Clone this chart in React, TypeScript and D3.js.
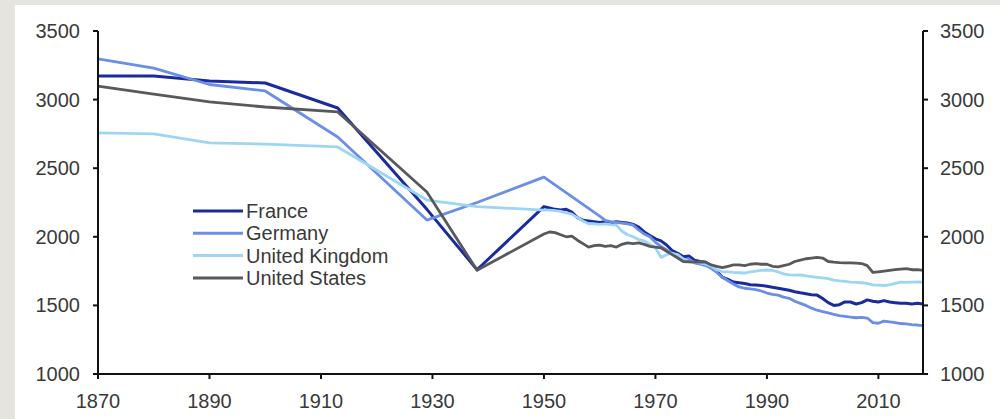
import React from "react";
import * as d3 from "d3";

const years = [
  1870, 1880, 1890, 1900, 1913, 1929, 1938,
  1950, 1951, 1952, 1953, 1954, 1955, 1956, 1957, 1958, 1959,
  1960, 1961, 1962, 1963, 1964, 1965, 1966, 1967, 1968, 1969,
  1970, 1971, 1972, 1973, 1974, 1975, 1976, 1977, 1978, 1979,
  1980, 1981, 1982, 1983, 1984, 1985, 1986, 1987, 1988, 1989,
  1990, 1991, 1992, 1993, 1994, 1995, 1996, 1997, 1998, 1999,
  2000, 2001, 2002, 2003, 2004, 2005, 2006, 2007, 2008, 2009,
  2010, 2011, 2012, 2013, 2014, 2015, 2016, 2017, 2018,
];

const france = [
  3172, 3172, 3135, 3121, 2939, 2200, 1760,
  2220, 2210, 2200, 2195, 2200, 2180, 2140, 2120, 2115, 2110,
  2105, 2110, 2100, 2110, 2105, 2100, 2090, 2070, 2035, 2010,
  1985, 1970, 1940, 1900, 1880, 1855, 1860, 1830, 1820, 1815,
  1790, 1750, 1705, 1690, 1670, 1665, 1660, 1650, 1648, 1645,
  1640, 1632, 1625, 1618, 1610, 1600, 1592, 1585, 1578, 1575,
  1550, 1520, 1500, 1505, 1525, 1525, 1510, 1520, 1540, 1530,
  1525, 1535, 1525, 1520, 1515, 1515, 1510, 1515, 1510,
];

const germany = [
  3296, 3230, 3110, 3063, 2727, 2122, 2250,
  2435, null, null, null, null, null, null, null, null, null,
  2150, 2120, 2110, 2105, 2100, 2095, 2085, 2050, 2020, 2000,
  1960, 1930, 1905, 1880, 1855, 1830, 1840, 1810, 1800, 1790,
  1770, 1740, 1705, 1680, 1655, 1635, 1625, 1620, 1615, 1605,
  1590, 1580, 1575, 1560, 1552, 1530, 1515, 1500, 1480, 1465,
  1455, 1445, 1435, 1425, 1420, 1415, 1410, 1412, 1408, 1375,
  1370, 1385, 1380, 1375, 1368, 1365, 1360, 1357, 1352,
];

const unitedKingdom = [
  2757, 2750, 2684, 2676, 2655, 2268, 2220,
  2195, 2195, 2190, 2185, 2175, 2165, 2140, 2115, 2095, 2095,
  2090, 2095, 2088, 2085, 2040, 2015, 2000, 1980, 1970, 1945,
  1920, 1850, 1870, 1880, 1870, 1840, 1820, 1815, 1810, 1800,
  1785, 1760, 1745, 1745, 1740, 1738, 1736, 1745, 1750, 1755,
  1758, 1755, 1745, 1730, 1722, 1720, 1722, 1715, 1710, 1705,
  1700, 1695, 1685, 1678, 1675, 1670, 1668, 1665, 1660, 1650,
  1648, 1645, 1650, 1660, 1670, 1668, 1670, 1672, 1670,
];

const unitedStates = [
  3099, 3040, 2983, 2946, 2910, 2326, 1756,
  2020, 2035, 2030, 2015, 2000, 2005, 1975, 1950, 1925, 1935,
  1940, 1930, 1935, 1925, 1945, 1955, 1950, 1955, 1945, 1930,
  1925, 1920, 1895, 1870, 1845, 1820, 1818, 1815, 1818, 1815,
  1795, 1785, 1775, 1785, 1795, 1795, 1790, 1800, 1805, 1800,
  1800, 1785, 1780, 1790, 1800, 1820, 1830, 1840, 1845, 1850,
  1845, 1820, 1815, 1812, 1810, 1810, 1808, 1805, 1790, 1740,
  1745, 1750, 1755, 1760, 1765, 1768, 1760, 1760, 1755,
];

const seriesNames = ["France", "Germany", "United Kingdom", "United States"];
const seriesValues = [france, germany, unitedKingdom, unitedStates];
const seriesColors = ["#1b2a9c", "#6b8fe6", "#9dd6f4", "#58595d"];

const yTicks = [1000, 1500, 2000, 2500, 3000, 3500];
const xTicks = [1870, 1890, 1910, 1930, 1950, 1970, 1990, 2010];

const W = 1000;
const H = 419;

export default function App() {
  const x = d3.scaleLinear().domain([1870, 2018]).range([98, 923]);
  const y = d3.scaleLinear().domain([1000, 3500]).range([374, 31]);

  const line = d3
    .line<[number, number]>()
    .x((d) => x(d[0]))
    .y((d) => y(d[1]));

  const textColor = "#3a3a3a";
  const font = "'Liberation Sans', Arial, sans-serif";

  return (
    <div style={{ position: "absolute", left: 0, top: 0 }}>
      <svg width={W} height={H} style={{ display: "block" }}>
        <rect x={0} y={0} width={W} height={H} fill="#e6e4de" />
        <rect x={15} y={5} width={W - 15} height={H - 5} fill="#ffffff" />

        {seriesValues.map((vals, i) => {
          const pts = years
            .map((yr, j) => [yr, vals[j]] as [number, number | null])
            .filter((p) => p[1] !== null) as [number, number][];
          return (
            <path
              key={seriesNames[i]}
              d={line(pts) || ""}
              fill="none"
              stroke={seriesColors[i]}
              strokeWidth={i === 0 ? 3 : 2.8}
              strokeLinejoin="round"
            />
          );
        })}

        {/* axes */}
        <g stroke="#111" strokeWidth={2} fill="none">
          <line x1={x(1870)} x2={x(1870)} y1={y(3500)} y2={y(1000)} />
          <line x1={x(2018)} x2={x(2018)} y1={y(3500)} y2={y(1000)} />
          <line x1={x(1870) - 1} x2={x(2018) + 1} y1={y(1000)} y2={y(1000)} />
          {yTicks.map((t) => (
            <g key={"yt" + t}>
              <line x1={x(1870) - 5} x2={x(1870)} y1={y(t)} y2={y(t)} />
              <line x1={x(2018)} x2={x(2018) + 5} y1={y(t)} y2={y(t)} />
            </g>
          ))}
          {xTicks.map((t) => (
            <line key={"xt" + t} x1={x(t)} x2={x(t)} y1={y(1000)} y2={y(1000) + 5} />
          ))}
        </g>

        <g fontFamily={font} fontSize={20} fill={textColor}>
          {yTicks.map((t) => (
            <g key={"yl" + t}>
              <text x={80} y={y(t)} dy="0.35em" textAnchor="end">
                {t}
              </text>
              <text x={940} y={y(t)} dy="0.35em" textAnchor="start">
                {t}
              </text>
            </g>
          ))}
          {xTicks.map((t) => (
            <text key={"xl" + t} x={x(t)} y={401} dy="0.35em" textAnchor="middle">
              {t}
            </text>
          ))}
        </g>

        <g fontFamily={font} fontSize={20} fill={textColor}>
          {seriesNames.map((name, i) => {
            const ly = 211 + i * 22.3;
            return (
              <g key={"lg" + name}>
                <line x1={193} x2={243} y1={ly} y2={ly} stroke={seriesColors[i]} strokeWidth={3} />
                <text x={246} y={ly} dy="0.35em">
                  {name}
                </text>
              </g>
            );
          })}
        </g>
      </svg>
    </div>
  );
}
